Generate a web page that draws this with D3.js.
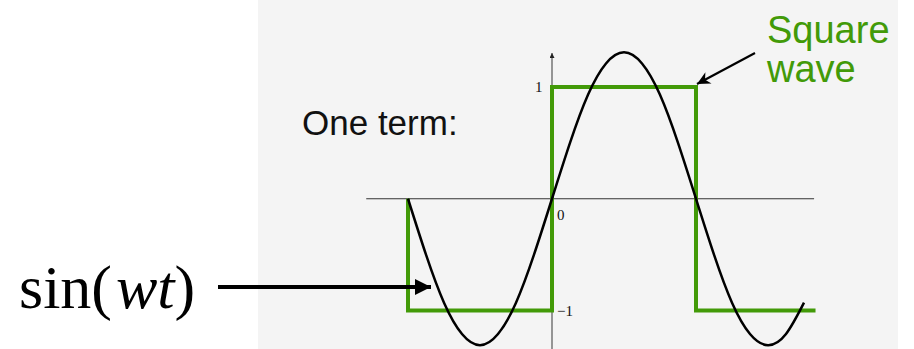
<!DOCTYPE html>
<html>
<head>
<meta charset="utf-8">
<script src="https://cdn.jsdelivr.net/npm/d3@7"></script>
<style>
  body { margin: 0; background: #ffffff; }
  svg { display: block; }
</style>
</head>
<body>
<div id="chart"></div>
<script>
// Square wave corners (t in units of pi, value)
const squareT = [-1, -1, 0, 0, 1, 1, 1.83];
const squareY = [0, -1, -1, 1, 1, -1, -1];

// First Fourier term
const sineT = [-1, -0.875, -0.75, -0.625, -0.5, -0.375, -0.25, -0.125, 0,
    0.125, 0.25, 0.375, 0.5, 0.625, 0.75, 0.875, 1,
    1.125, 1.25, 1.375, 1.5, 1.625, 1.75];
const sineY = [0, -0.50, -0.93, -1.21, -1.31, -1.21, -0.93, -0.50, 0,
    0.50, 0.93, 1.21, 1.31, 1.21, 0.93, 0.50, 0,
    -0.50, -0.93, -1.21, -1.31, -1.21, -0.93];

// Tick labels
const tickValues = [1, 0, -1];
const tickLabels = ["1", "0", "\u22121"];

const W = 914, H = 349;
const green = "#429a08";

const svg = d3.select("#chart")
    .append("svg")
    .attr("width", W)
    .attr("height", H);

// Arrow markers
const defs = svg.append("defs");
defs.append("marker")
    .attr("id", "bigArrow")
    .attr("viewBox", "0 0 10 10")
    .attr("refX", 10).attr("refY", 5)
    .attr("markerUnits", "userSpaceOnUse")
    .attr("markerWidth", 17).attr("markerHeight", 16)
    .attr("orient", "auto")
    .append("path").attr("d", "M0,0L10,5L0,10Z").attr("fill", "#000");
defs.append("marker")
    .attr("id", "thinArrow")
    .attr("viewBox", "0 0 10 10")
    .attr("refX", 10).attr("refY", 5)
    .attr("markerUnits", "userSpaceOnUse")
    .attr("markerWidth", 18).attr("markerHeight", 13)
    .attr("orient", "auto")
    .append("path").attr("d", "M0,0L10,5L0,10L3,5Z").attr("fill", "#000");
defs.append("marker")
    .attr("id", "axisArrow")
    .attr("viewBox", "0 0 10 10")
    .attr("refX", 10).attr("refY", 5)
    .attr("markerUnits", "userSpaceOnUse")
    .attr("markerWidth", 11).attr("markerHeight", 5)
    .attr("orient", "auto")
    .append("path").attr("d", "M0,0L10,5L0,10Z").attr("fill", "#222");

// Gray figure panel
svg.append("rect")
    .attr("x", 258).attr("y", 0)
    .attr("width", 640).attr("height", H)
    .attr("fill", "#f4f4f4");

// Scales
const x = d3.scaleLinear().domain([0, 1]).range([552, 696]);
const y = d3.scaleLinear().domain([-1, 1]).range([310.5, 87]);

// Axes
svg.append("line")
    .attr("x1", x(-1.29)).attr("x2", x(1.82))
    .attr("y1", y(0)).attr("y2", y(0))
    .attr("stroke", "#333").attr("stroke-width", 1.2);
svg.append("line")
    .attr("x1", x(0)).attr("x2", x(0))
    .attr("y1", H).attr("y2", 53)
    .attr("stroke", "#555").attr("stroke-width", 1.2)
    .attr("marker-end", "url(#axisArrow)");

// Tick labels
const tickG = svg.append("g")
    .attr("font-family", "'Liberation Serif', 'Times New Roman', serif")
    .attr("font-size", 15)
    .attr("fill", "#111");
tickG.selectAll("text")
    .data(tickValues)
    .enter().append("text")
    .attr("x", d => d === 1 ? x(0) - 17 : x(0) + 5)
    .attr("y", d => d === 0 ? y(0) + 16 : y(d))
    .attr("dy", "0.35em")
    .attr("text-anchor", "start")
    .text((d, i) => tickLabels[i]);

// Square wave
const line = d3.line().x(d => x(d[0])).y(d => y(d[1]));
svg.append("path")
    .datum(squareT.map((t, i) => [t, squareY[i]]))
    .attr("d", line)
    .attr("fill", "none")
    .attr("stroke", green)
    .attr("stroke-width", 4);

// Sine curve
const curve = d3.line().x(d => x(d[0])).y(d => y(d[1])).curve(d3.curveNatural);
svg.append("path")
    .datum(sineT.map((t, i) => [t, sineY[i]]))
    .attr("d", curve)
    .attr("fill", "none")
    .attr("stroke", "#000")
    .attr("stroke-width", 2.5);

// Labels
svg.append("text")
    .attr("x", 302).attr("y", 135)
    .attr("font-family", "'Liberation Sans', Arial, sans-serif")
    .attr("font-size", 35)
    .attr("fill", "#111")
    .text("One term:");

const sq = svg.append("text")
    .attr("font-family", "'Liberation Sans', Arial, sans-serif")
    .attr("font-size", 38)
    .attr("fill", green);
sq.append("tspan").attr("x", 767).attr("y", 43).text("Square");
sq.append("tspan").attr("x", 767).attr("y", 82).text("wave");

svg.append("line")
    .attr("x1", 755).attr("y1", 53)
    .attr("x2", 697).attr("y2", 84)
    .attr("stroke", "#000").attr("stroke-width", 2.2)
    .attr("marker-end", "url(#thinArrow)");

const sin = svg.append("text")
    .attr("x", 19).attr("y", 308)
    .attr("font-family", "'Liberation Serif', 'Times New Roman', serif")
    .attr("font-size", 62)
    .attr("fill", "#000");
sin.append("tspan").text("sin(");
sin.append("tspan").attr("font-style", "italic").attr("dx", 4).text("wt");
sin.append("tspan").text(")");

svg.append("line")
    .attr("x1", 218).attr("y1", 287)
    .attr("x2", 431).attr("y2", 287)
    .attr("stroke", "#000").attr("stroke-width", 4)
    .attr("marker-end", "url(#bigArrow)");
</script>
</body>
</html>
